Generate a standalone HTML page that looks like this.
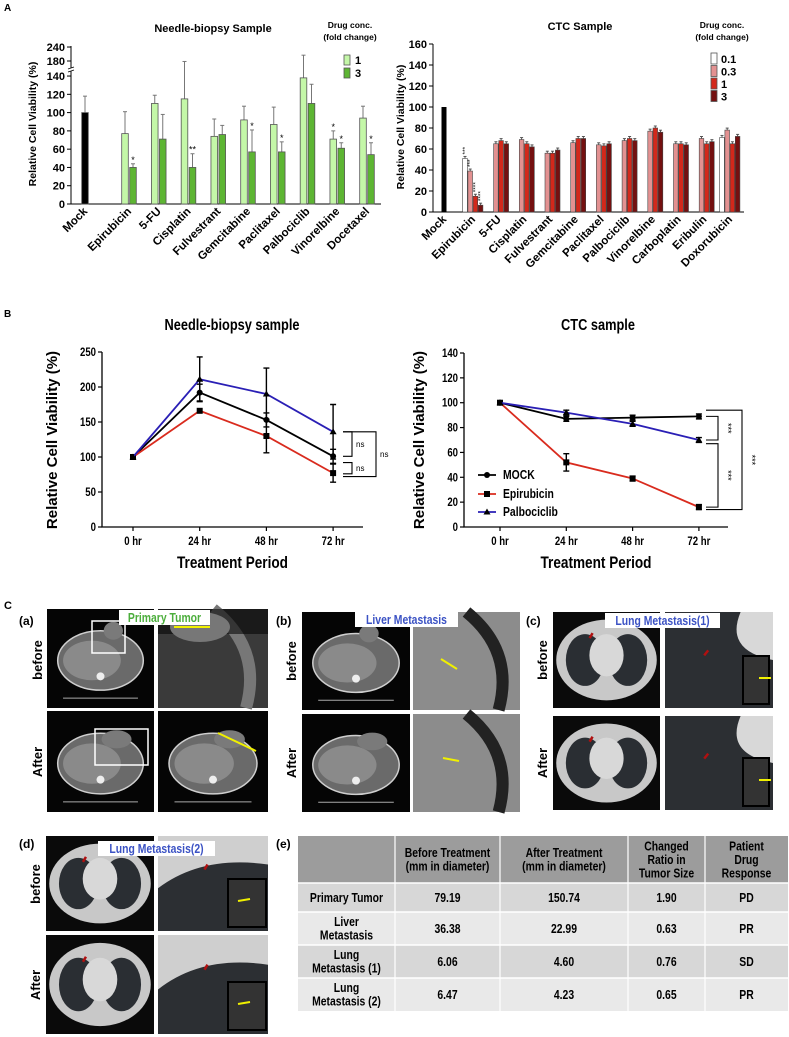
<!DOCTYPE html>
<html><head><meta charset="utf-8">
<style>
html,body{margin:0;padding:0;background:#fff;}
svg{display:block;font-family:"Liberation Sans",Arial,sans-serif;font-weight:bold;}
</style></head>
<body>
<svg id="fig" width="789" height="1037" viewBox="0 0 789 1037" xmlns="http://www.w3.org/2000/svg">
<text x="4" y="11" font-size="10">A</text>
<text x="4" y="317" font-size="10">B</text>
<text x="4" y="609" font-size="11">C</text>
<g id="nb"></g>
<g id="ctc"></g>
<g id="lb"></g>
<g id="rb"></g>
<g id="pc"></g>
<g id="tbl"></g>
</svg>
<script>
// ---------- data: needle-biopsy bar chart ----------
const nbCats = ["Mock","Epirubicin","5-FU","Cisplatin","Fulvestrant","Gemcitabine","Paclitaxel","Palbociclib","Vinorelbine","Docetaxel"];
const nbLow = [100,77,110,115,74,92,87,138,71,94];
const nbLowErr = [18,24,9,63,19,15,19,67,9,13];
const nbHigh = [null,40,71,40,76,57,57,110,61,54];
const nbHighErr = [null,4,27,15,10,24,11,21,6,13];
const nbStars = [["",""],["","*"],["",""],["","**"],["",""],["","*"],["","*"],["",""],["*","*"],["","*"]];
const nbTicks = [0,20,40,60,80,100,120,140,180,240];
// ---------- data: CTC bar chart ----------
const ctcCats = ["Mock","Epirubicin","5-FU","Cisplatin","Fulvestrant","Gemcitabine","Paclitaxel","Palbociclib","Vinorelbine","Carboplatin","Eribulin","Doxorubicin"];
const ctc01 = [null,51,null,null,null,null,null,null,null,null,null,71];
const ctc03 = [null,39,65,69,56,66,64,68,77,65,70,78];
const ctc1 = [null,15,68,65,56,70,63,70,80,65,65,65];
const ctc3 = [null,6.5,65,62,59,70,65,68,76,64,67,72];
const ctcMock = 100;
const ctcTicks = [0,20,40,60,80,100,120,140,160];
// ---------- data: line charts ----------
const timeLabels = ["0 hr","24 hr","48 hr","72 hr"];
const nbMock = [100,192,153,101], nbMockErr=[0,12,10,10];
const nbEpi = [100,166,130,77], nbEpiErr=[0,0,24,13];
const nbPalbo = [100,211,190,136], nbPalboErr=[0,32,37,39];
const nbLineTicks = [0,50,100,150,200,250];
const ctcMockL = [100,87,88,89], ctcMockErr=[0,2,2,2];
const ctcEpiL = [100,52,39,16], ctcEpiErr=[0,7,2,2];
const ctcPalboL = [100,92,83,70], ctcPalboErr=[0,2,2,2];
const ctcLineTicks = [0,20,40,60,80,100,120,140];
// ---------- data: table ----------
const tblHead = [["",""],["Before Treatment","(mm in diameter)"],["After Treatment","(mm in diameter)"],["Changed","Ratio in","Tumor Size"],["Patient","Drug","Response"]];
const tblRows = [[["Primary Tumor"],"79.19","150.74","1.90","PD"],[["Liver","Metastasis"],"36.38","22.99","0.63","PR"],[["Lung","Metastasis (1)"],"6.06","4.60","0.76","SD"],[["Lung","Metastasis (2)"],"6.47","4.23","0.65","PR"]];

const NS="http://www.w3.org/2000/svg";
function el(parent,tag,attrs,txt){const e=document.createElementNS(NS,tag);for(const k in attrs)e.setAttribute(k,attrs[k]);if(txt!==undefined)e.textContent=txt;parent.appendChild(e);return e;}

// ===== needle-biopsy bars =====
(function(){
 const g=document.getElementById('nb');
 const yv=v=> v<=150 ? 204 - v*0.914 : 61-(v-180)*0.233;
 const xc=i=> i===0?85:125+29.75*(i-1);
 let t=el(g,'text',{x:213,y:32,'font-size':11,'text-anchor':'middle'},"Needle-biopsy Sample");
 
 el(g,'text',{x:350,y:28,'font-size':8.5,'text-anchor':'middle'},"Drug conc.");
 el(g,'text',{x:350,y:40,'font-size':8.5,'text-anchor':'middle'},"(fold change)");
 let r=el(g,'rect',{x:344,y:55,width:6,height:10,fill:'#c4f7a8',stroke:'#555','stroke-width':0.8});
 
 r=el(g,'rect',{x:344,y:68,width:6,height:10,fill:'#5db533',stroke:'#555','stroke-width':0.8});
 
 el(g,'text',{x:355,y:64,'font-size':11},"1");
 el(g,'text',{x:355,y:77,'font-size':11},"3");
 el(g,'path',{d:'M71,204 V71 M71,68 V46 M381,204 H71',stroke:'#000','stroke-width':1,fill:'none'});
 el(g,'path',{d:'M68,72 l6,-2 M68,69 l6,-2',stroke:'#000','stroke-width':0.8});
 nbTicks.forEach(v=>{const y=yv(v);el(g,'line',{x1:67,x2:71,y1:y,y2:y,stroke:'#000'});
  const tt=el(g,'text',{x:65,y:y+4,'font-size':11,'text-anchor':'end'},v);
  });
 t=el(g,'text',{x:0,y:0,'font-size':10.5,'text-anchor':'middle',transform:'translate(36,124) rotate(-90)'},"Relative Cell Viability (%)");
 
 nbCats.forEach((c,i)=>{
  const x=xc(i);
  const bars=i===0?[[nbLow[0],nbLowErr[0],'#000',x]]:[[nbLow[i],nbLowErr[i],'#c4f7a8',x],[nbHigh[i],nbHighErr[i],'#5db533',x+8]];
  bars.forEach((b,k)=>{
   const top=yv(b[0]);
   const et=yv(b[0]+b[1]);
   el(g,'line',{x1:b[3],x2:b[3],y1:top,y2:et,stroke:'#777','stroke-width':1});
   el(g,'line',{x1:b[3]-2,x2:b[3]+2,y1:et,y2:et,stroke:'#777','stroke-width':1});
   const rr=el(g,'rect',{x:b[3]-3.3,y:top,width:6.6,height:204-top,fill:b[2],stroke:'#555','stroke-width':0.8});
   
   if(i>0&&nbStars[i][k])el(g,'text',{x:b[3],y:et-1,'font-size':9,'text-anchor':'middle','font-weight':'normal'},nbStars[i][k]);
  });
  const lx=i===0?x:x+4;
  const lt=el(g,'text',{x:0,y:0,'font-size':11.5,'text-anchor':'end',transform:`translate(${lx+3},${212}) rotate(-45)`},c);
  
 });
})();

// ===== CTC bars =====
(function(){
 const g=document.getElementById('ctc');
 const yv=v=>212-v*1.05;
 const x0=465, step=25.7, bw=5.2;
 let t=el(g,'text',{x:580,y:30,'font-size':11,'text-anchor':'middle'},"CTC Sample");
 
 el(g,'text',{x:722,y:28,'font-size':8.5,'text-anchor':'middle'},"Drug conc.");
 el(g,'text',{x:722,y:40,'font-size':8.5,'text-anchor':'middle'},"(fold change)");
 const cols=['#ffffff','#e39191','#d3281b','#741010'],labs=['0.1','0.3','1','3'];
 cols.forEach((c,k)=>{const r=el(g,'rect',{x:711,y:53+k*12.5,width:6,height:11,fill:c,stroke:'#555','stroke-width':0.8});
  
  el(g,'text',{x:721,y:63+k*12.5,'font-size':11},labs[k]);});
 el(g,'path',{d:'M433,44 V212 H744',stroke:'#000','stroke-width':1,fill:'none'});
 ctcTicks.forEach(v=>{const y=yv(v);el(g,'line',{x1:429,x2:433,y1:y,y2:y,stroke:'#000'});
  const tt=el(g,'text',{x:427,y:y+4,'font-size':11,'text-anchor':'end'},v);
  });
 t=el(g,'text',{x:0,y:0,'font-size':10.5,'text-anchor':'middle',transform:'translate(404,127) rotate(-90)'},"Relative Cell Viability (%)");
 
 const mk=el(g,'rect',{x:441.5,y:yv(ctcMock),width:5,height:212-yv(ctcMock),fill:'#000'});
 
 const series=[ctc01,ctc03,ctc1,ctc3];
 const stars=['***','***','****','****'];
 ctcCats.forEach((c,i)=>{
  if(i>0){
   series.forEach((s,k)=>{
    const v=s[i]; if(v===null)return;
    const x=x0+step*(i-1)+bw*k;
    el(g,'line',{x1:x,x2:x,y1:yv(v),y2:yv(v)-2,stroke:'#555'});
    el(g,'line',{x1:x-1.5,x2:x+1.5,y1:yv(v)-2,y2:yv(v)-2,stroke:'#555'});
    const r=el(g,'rect',{x:x-2.3,y:yv(v),width:4.6,height:212-yv(v),fill:cols[k],stroke:'#444','stroke-width':0.6});
    
    if(i===1)el(g,'text',{x:0,y:0,'font-size':6.5,'font-weight':'normal','text-anchor':'start',transform:`translate(${x+2},${yv(v)-4}) rotate(-90)`},stars[k]);
   });
  }
  const cx=i===0?444:x0+step*(i-1)+8;
  const lt=el(g,'text',{x:0,y:0,'font-size':11.5,'text-anchor':'end',transform:`translate(${cx+3},${220}) rotate(-45)`},c);
  
 });
})();

// ===== line charts =====
function lineChart(id,o){
 const g=document.getElementById(id);
 const yv=v=>o.y0-(v/o.vmax)*(o.y0-o.ytop);
 const xv=i=>o.xs+i*o.dx;
 let t=el(g,'text',{x:o.tx,y:330,'font-size':16,'text-anchor':'middle','class':'n'},o.title);
 
 el(g,'path',{d:`M${o.ax},${o.ytop} V${o.y0} H${o.axEnd}`,stroke:'#000','stroke-width':1.3,fill:'none'});
 o.ticks.forEach(v=>{const y=yv(v);el(g,'line',{x1:o.ax-4,x2:o.ax,y1:y,y2:y,stroke:'#000','stroke-width':1.2});
  const tt=el(g,'text',{x:o.ax-6,y:y+4,'font-size':12,'text-anchor':'end','class':'n'},v);
  });
 timeLabels.forEach((l,i)=>{el(g,'line',{x1:xv(i),x2:xv(i),y1:o.y0,y2:o.y0+4,stroke:'#000','stroke-width':1.2});
  const tt=el(g,'text',{x:xv(i),y:545,'font-size':12,'text-anchor':'middle','class':'n'},l);
  });
 t=el(g,'text',{x:(o.ax+o.axEnd)/2,y:568,'font-size':17,'text-anchor':'middle','class':'n'},"Treatment Period");
 
 t=el(g,'text',{x:0,y:0,'font-size':15,'text-anchor':'middle',transform:`translate(${o.ylx},440) rotate(-90)`},"Relative Cell Viability (%)");
 
 const ser=[[o.mock,o.mockE,'#000','circle','mock'],[o.epi,o.epiE,'#d92b1e','square','epirubicin'],[o.palbo,o.palboE,'#2a1fb5','tri','palbociclib']];
 ser.forEach(s=>{
  const p=el(g,'polyline',{points:s[0].map((v,i)=>xv(i)+','+yv(v)).join(' '),fill:'none',stroke:s[2],'stroke-width':1.8});
  
  s[0].forEach((v,i)=>{
   const e=s[1][i];
   if(e>0){el(g,'path',{d:`M${xv(i)},${yv(v+e)} V${yv(v-e)} M${xv(i)-3},${yv(v+e)} h6 M${xv(i)-3},${yv(v-e)} h6`,stroke:'#000','stroke-width':1.4,fill:'none'});}
   let m;
   if(s[3]==='circle')m=el(g,'circle',{cx:xv(i),cy:yv(v),r:3,fill:'#000'});
   else if(s[3]==='square')m=el(g,'rect',{x:xv(i)-3,y:yv(v)-3,width:6,height:6,fill:'#000'});
   else m=el(g,'path',{d:`M${xv(i)},${yv(v)-3.5} l3.5,6 h-7z`,fill:'#000'});
   
  });
 });
 o.brackets.forEach(b=>{
  el(g,'path',{d:`M${b[0]},${yv(b[1])} H${b[2]} V${yv(b[3])} H${b[0]}`,stroke:'#000','stroke-width':1.1,fill:'none'});
  const my=(yv(b[1])+yv(b[3]))/2;
  if(b[5])el(g,'text',{x:0,y:0,'font-size':9,'text-anchor':'middle','font-weight':'normal',transform:`translate(${b[2]+7},${my}) rotate(90)`},b[4]);
  else el(g,'text',{x:b[2]+4,y:my+3,'font-size':8,'font-weight':'normal'},b[4]);
 });
 return {g,xv,yv};
}
lineChart('lb',{title:"Needle-biopsy sample",tx:232,ax:102,axEnd:363,xs:133,dx:66.7,y0:527,ytop:352,vmax:250,ticks:nbLineTicks,ylx:57,
 mock:nbMock,mockE:nbMockErr,epi:nbEpi,epiE:nbEpiErr,palbo:nbPalbo,palboE:nbPalboErr,
 brackets:[[343,136,352,101,"ns",false],[343,92,352,76,"ns",false],[343,136,376,72,"ns",false]]});
const rc=lineChart('rb',{title:"CTC sample",tx:598,ax:464,axEnd:728,xs:500,dx:66.3,y0:527,ytop:353,vmax:140,ticks:ctcLineTicks,ylx:424,
 mock:ctcMockL,mockE:ctcMockErr,epi:ctcEpiL,epiE:ctcEpiErr,palbo:ctcPalboL,palboE:ctcPalboErr,
 brackets:[[706,89,718,70,"***",true],[706,67,718,16,"***",true],[706,94,742,14,"***",true]]});
(function(){
 const g=rc.g;
 const items=[["MOCK",'#000','circle',475],["Epirubicin",'#d92b1e','square',494],["Palbociclib",'#2a1fb5','tri',512]];
 items.forEach(it=>{
  const lg=el(g,'g',{});
  
  el(lg,'line',{x1:478,x2:496,y1:it[3],y2:it[3],stroke:it[1],'stroke-width':1.8});
  if(it[2]==='circle')el(lg,'circle',{cx:487,cy:it[3],r:3,fill:'#000'});
  else if(it[2]==='square')el(lg,'rect',{x:484,y:it[3]-3,width:6,height:6,fill:'#000'});
  else el(lg,'path',{d:`M487,${it[3]-3.5} l3.5,6 h-7z`,fill:'#000'});
  el(lg,'text',{x:503,y:it[3]+4,'font-size':13,'class':'n'},it[0]);
 });
})();

// ===== panel C images =====
(function(){
 const g=document.getElementById('pc');
 function axial(x,y,w,h,tumor,box){
  const gg=el(g,'g',{});
  
  el(gg,'rect',{x,y,width:w,height:h,fill:'#050505'});
  el(gg,'ellipse',{cx:x+w*0.5,cy:y+h*0.52,rx:w*0.4,ry:h*0.3,fill:'#6a6a6a',stroke:'#cfcfcf','stroke-width':1.5});
  el(gg,'ellipse',{cx:x+w*0.42,cy:y+h*0.52,rx:w*0.27,ry:h*0.2,fill:'#8a8a8a'});
  el(gg,'circle',{cx:x+w*0.5,cy:y+h*0.68,r:4,fill:'#eee'});
  if(tumor)el(gg,'ellipse',{cx:x+w*(tumor==2?0.65:0.62),cy:y+h*(tumor==2?0.28:0.22),rx:w*(tumor==2?0.14:0.09),ry:h*0.09,fill:'#7a7a7a'});
  el(gg,'path',{d:`M${x+w*0.15},${y+h*0.9} h${w*0.7}`,stroke:'#aaa','stroke-width':1});
  if(box)el(gg,'rect',{x:x+box[0],y:y+box[1],width:box[2],height:box[3],fill:'none',stroke:'#fff','stroke-width':1.5});
 }
 function zoomImg(x,y,w,h,bg,fg,line){
  const gg=el(g,'g',{});
  
  el(gg,'rect',{x,y,width:w,height:h,fill:bg});
  el(gg,'path',{d:`M${x+w*0.5},${y} Q${x+w*0.95},${y+h*0.4} ${x+w*0.8},${y+h}`,stroke:fg,'stroke-width':12,fill:'none'});
  if(line)el(gg,'line',{x1:x+line[0],y1:y+line[1],x2:x+line[2],y2:y+line[3],stroke:'#f0f000','stroke-width':2});
 }
 function lung(x,y,w,h){
  const gg=el(g,'g',{});
  
  el(gg,'rect',{x,y,width:w,height:h,fill:'#0a0a0a'});
  el(gg,'ellipse',{cx:x+w*0.5,cy:y+h*0.5,rx:w*0.47,ry:h*0.42,fill:'#c8c8c8'});
  el(gg,'ellipse',{cx:x+w*0.3,cy:y+h*0.5,rx:w*0.18,ry:h*0.27,fill:'#2a2e33'});
  el(gg,'ellipse',{cx:x+w*0.7,cy:y+h*0.5,rx:w*0.18,ry:h*0.27,fill:'#2a2e33'});
  el(gg,'ellipse',{cx:x+w*0.5,cy:y+h*0.45,rx:w*0.16,ry:h*0.22,fill:'#d8d8d8'});
  el(gg,'path',{d:`M${x+w*0.37},${y+h*0.22} l-3,5`,stroke:'#b01010','stroke-width':2.5});
 }
 function lungZoom(x,y,w,h,inset){
  const gg=el(g,'g',{});
  
  el(gg,'rect',{x,y,width:w,height:h,fill:'#2c2f33'});
  el(gg,'path',{d:`M${x+w*0.7},${y} Q${x+w*0.55},${y+h*0.4} ${x+w},${y+h*0.5} V${y} Z`,fill:'#d8d8d8'});
  el(gg,'path',{d:`M${x+w*0.4},${y+h*0.4} l-4,5`,stroke:'#b01010','stroke-width':2.5});
  el(gg,'rect',{x:x+w-inset-4,y:y+h-52,width:inset,height:48,fill:'#333',stroke:'#000','stroke-width':2});
  el(gg,'line',{x1:x+w-inset+12,x2:x+w-inset+24,y1:y+h-30,y2:y+h-30,stroke:'#f0f000','stroke-width':2});
 }
 function lungZoom2(x,y,w,h){
  const gg=el(g,'g',{});
  
  el(gg,'rect',{x,y,width:w,height:h,fill:'#2c2f33'});
  el(gg,'path',{d:`M${x},${y} H${x+w} V${y+h*0.3} Q${x+w*0.4},${y+h*0.2} ${x},${y+h*0.55} Z`,fill:'#cfcfcf'});
  el(gg,'path',{d:`M${x+w*0.45},${y+h*0.3} l-3,5`,stroke:'#b01010','stroke-width':2.5});
  el(gg,'rect',{x:x+w-40,y:y+h-52,width:38,height:48,fill:'#333',stroke:'#000','stroke-width':2});
  el(gg,'line',{x1:x+w-30,x2:x+w-18,y1:y+h-30,y2:y+h-32,stroke:'#f0f000','stroke-width':2});
 }
 axial(47,609,107,99,1,[45,12,33,32]); zoomImg(158,609,110,99,'#3a3a3a','#777',[17,18,53,18]);
 el(g,'rect',{x:158,y:609,width:110,height:25,fill:'#000',opacity:0.55});
 el(g,'ellipse',{cx:200,cy:627,rx:30,ry:15,fill:'#777'});
 el(g,'line',{x1:174,y1:627,x2:210,y2:627,stroke:'#f0f000','stroke-width':2});
 axial(47,711,107,101,2,[48,18,53,36]); axial(158,711,110,101,2,null);
 el(g,'line',{x1:218,y1:733,x2:256,y2:751,stroke:'#f0f000','stroke-width':2});
 axial(302,612,108,98,1,null); zoomImg(413,612,107,98,'#8c8c8c','#222',[28,47,44,57]);
 axial(302,714,108,98,2,null); zoomImg(413,714,107,98,'#8c8c8c','#222',[30,44,46,47]);
 lung(553,612,107,96); lungZoom(665,612,108,96,26);
 lung(553,716,107,94); lungZoom(665,716,108,94,26);
 lung(46,836,108,95); lungZoom2(158,836,110,95);
 lung(46,935,108,99); lungZoom2(158,935,110,99);
 const lab=(x,y,s,n)=>{const t=el(g,'text',{x,y,'font-size':12},s);};
 lab(19,625,"(a)",'panel-a-sub-label');lab(276,625,"(b)",'panel-b-sub-label');lab(526,625,"(c)",'panel-c-sub-label');
 lab(19,848,"(d)",'panel-d-sub-label');lab(276,848,"(e)",'panel-e-sub-label');
 const rot=(x,y,s)=>{const t=el(g,'text',{x:0,y:0,'font-size':13,'text-anchor':'middle',transform:`translate(${x},${y}) rotate(-90)`},s);};
 rot(42,660,"before");rot(42,762,"After");rot(296,661,"before");rot(296,763,"After");
 rot(547,660,"before");rot(547,763,"After");rot(40,884,"before");rot(40,985,"After");
 const box=(x,y,w,s,c)=>{el(g,'rect',{x,y,width:w,height:15,fill:'#fff'});
  const t=el(g,'text',{x:x+w/2,y:y+12,'font-size':13,'text-anchor':'middle',fill:c,'class':'n'},s);
  };
 box(119,610,91,"Primary Tumor",'#4cae3c');box(355,612,103,"Liver Metastasis",'#3b52c4');
 box(605,613,115,"Lung Metastasis(1)",'#3b52c4');box(98,841,117,"Lung Metastasis(2)",'#3b52c4');
})();

// ===== table =====
(function(){
 const g=document.getElementById('tbl');
 const xs=[298,395,500,628,705,788];
 const ys=[836,883,912,945,978,1011];
 el(g,'rect',{x:298,y:836,width:490,height:47,fill:'#9c9c9c'});
 const fills=['#d7d7d7','#e9e9e9','#d7d7d7','#e9e9e9'];
 tblRows.forEach((r,i)=>{const rr=el(g,'rect',{x:298,y:ys[i+1],width:490,height:ys[i+2]-ys[i+1],fill:fills[i]});
  });
 for(let i=1;i<5;i++)el(g,'line',{x1:xs[i],x2:xs[i],y1:836,y2:1011,stroke:'#fff','stroke-width':1.2});
 for(let j=1;j<5;j++)el(g,'line',{x1:298,x2:788,y1:ys[j],y2:ys[j],stroke:'#fff','stroke-width':1.5});
 const multi=(cx,cy,lines,n)=>{const h=13.5;const st=cy-(lines.length-1)*h/2+4.5;
  lines.forEach((l,k)=>{const t=el(g,'text',{x:cx,y:st+k*h,'font-size':13,'text-anchor':'middle','class':'n'},l);
   });};
 tblHead.forEach((h,i)=>multi((xs[i]+xs[i+1])/2,859.5,h.filter(s=>s),'table-header'));
 tblRows.forEach((r,i)=>{const cy=(ys[i+1]+ys[i+2])/2;
  multi((xs[0]+xs[1])/2,cy,r[0],'table-row-label');
  for(let c=1;c<5;c++)multi((xs[c]+xs[c+1])/2,cy,[r[c]],'table-cell');});
})();

// condensed text emulation
document.querySelectorAll('text.n').forEach(t=>{
 const x=+t.getAttribute('x'), y=+t.getAttribute('y');
 t.setAttribute('transform',`translate(${x},${y}) scale(0.8,1) translate(${-x},${-y})`);
});
</script>
</body></html>
